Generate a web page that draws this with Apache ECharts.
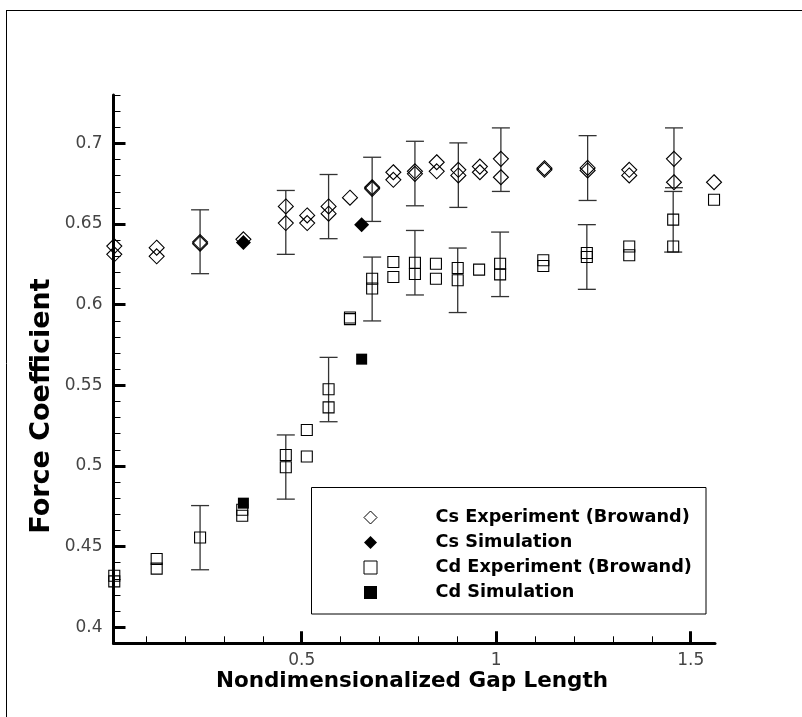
<!DOCTYPE html>
<html>
<head>
<meta charset="utf-8">
<script src="https://cdn.jsdelivr.net/npm/echarts@6/dist/echarts.min.js"></script>
<style>
html,body{margin:0;padding:0;background:#fff;}
#chart{width:802px;height:717px;}
</style>
</head>
<body>
<div id="chart"></div>
<script>
// ---- Data ----
var csExpX = [0.018,0.018, 0.127,0.127, 0.2386,0.2386, 0.35, 0.459,0.459, 0.514,0.514, 0.569,0.569, 0.624,
              0.681,0.681, 0.7355,0.7355, 0.791,0.791, 0.847,0.847, 0.9026,0.9026, 0.958,0.958, 1.012,1.012,
              1.124,1.124, 1.235,1.235, 1.342,1.342, 1.457,1.457, 1.56];
var csExpY = [0.6363,0.6312, 0.6353,0.6300, 0.6388,0.6378, 0.6405, 0.6609,0.6506, 0.6553,0.6506, 0.6609,0.6564, 0.6663,
              0.6728,0.6718, 0.6821,0.6774, 0.6827,0.6811, 0.6883,0.6827, 0.6836,0.6801, 0.6856,0.6821, 0.6904,0.6790,
              0.6846,0.6836, 0.6848,0.6832, 0.6836,0.6801, 0.6904,0.6759, 0.6759];
var csSimX = [0.35, 0.654];
var csSimY = [0.6385, 0.6496];

var cdExpX = [0.018,0.018, 0.127,0.127, 0.2386, 0.347,0.347, 0.459,0.459, 0.513,0.513, 0.569,0.569, 0.624,0.624,
              0.681,0.681, 0.7355,0.7355, 0.791,0.791, 0.845,0.845, 0.901,0.901, 0.956, 1.01,1.01,
              1.121,1.121, 1.233,1.233, 1.342,1.342, 1.455,1.455, 1.56];
var cdExpY = [0.4319,0.4284, 0.4423,0.4363, 0.4556, 0.4728,0.4691, 0.5068,0.4992, 0.5223,0.5058, 0.5475,0.5363, 0.5920,0.5910,
              0.6161,0.6100, 0.6264,0.6171, 0.6260,0.6190, 0.6254,0.6161, 0.6227,0.6151, 0.6217, 0.6254,0.6188,
              0.6275,0.6240, 0.6320,0.6295, 0.6361,0.6306, 0.6527,0.6361, 0.6650];
var cdSimX = [0.35, 0.654];
var cdSimY = [0.4769, 0.5662];

// error bars
var csErrX    = [0.2386, 0.459, 0.569, 0.681, 0.791, 0.9026, 1.012, 1.235, 1.457];
var csErrHigh = [0.6588, 0.6708, 0.6807, 0.6914, 0.7013, 0.7003, 0.7096, 0.7048, 0.7096];
var csErrLow  = [0.6192, 0.6312, 0.6409, 0.6516, 0.6613, 0.6603, 0.6702, 0.6646, 0.6725];
var cdErrX    = [0.2386, 0.459, 0.569, 0.681, 0.791, 0.901, 1.01, 1.233, 1.455];
var cdErrHigh = [0.4754, 0.5192, 0.5673, 0.6295, 0.6460, 0.6351, 0.6450, 0.6496, 0.6702];
var cdErrLow  = [0.4356, 0.4794, 0.5274, 0.5899, 0.6060, 0.5951, 0.6050, 0.6095, 0.6326];

// axis ticks / labels
var xMajor = [0.5, 1, 1.5];
var xMinor = [0.1, 0.2, 0.3, 0.4, 0.6, 0.7, 0.8, 0.9, 1.1, 1.2, 1.3, 1.4];
var yMajor = [0.4, 0.45, 0.5, 0.55, 0.6, 0.65, 0.7];
var yMinor = [0.39, 0.41, 0.42, 0.43, 0.44, 0.46, 0.47, 0.48, 0.49, 0.51, 0.52, 0.53, 0.54,
              0.56, 0.57, 0.58, 0.59, 0.61, 0.62, 0.63, 0.64, 0.66, 0.67, 0.68, 0.69, 0.71, 0.72, 0.73];
var xRange = [0.016, 1.5625];
var yRange = [0.39, 0.73];

var names = ['Cs Experiment (Browand)', 'Cs Simulation', 'Cd Experiment (Browand)', 'Cd Simulation'];

// ---- build ----
function pts(xs, ys) { return xs.map(function (x, i) { return [x, ys[i]]; }); }
function errs(xs, lo, hi) { return xs.map(function (x, i) { return [x, lo[i], hi[i]]; }); }
function fmt(v) { return String(+(+v).toFixed(2)); }

function errRender(params, api) {
  var x = api.value(0), lo = api.value(1), hi = api.value(2);
  var pLo = api.coord([x, lo]), pHi = api.coord([x, hi]);
  var w = 9;
  var st = { stroke: '#333', lineWidth: 1.3 };
  return {
    type: 'group',
    children: [
      { type: 'line', shape: { x1: pLo[0], y1: pLo[1], x2: pHi[0], y2: pHi[1] }, style: st },
      { type: 'line', shape: { x1: pHi[0] - w, y1: pHi[1], x2: pHi[0] + w, y2: pHi[1] }, style: st },
      { type: 'line', shape: { x1: pLo[0] - w, y1: pLo[1], x2: pLo[0] + w, y2: pLo[1] }, style: st }
    ]
  };
}

var labelStyle = { fontFamily: 'DejaVu Sans', fontSize: 17, color: '#444' };

var openStyle = { color: 'rgba(0,0,0,0)', borderColor: '#000', borderWidth: 1.1, opacity: 1 };
var fillStyle = { color: '#000', borderColor: '#000', borderWidth: 0, opacity: 1 };

var option = {
  animation: false,
  backgroundColor: '#fff',
  grid: { left: 113.5, right: 87, top: 95, bottom: 73.7, containLabel: false },
  xAxis: [
    {
      type: 'value', min: xRange[0], max: xRange[1],
      axisLine: { show: true, onZero: false, lineStyle: { color: '#000', width: 3 } },
      axisTick: { show: true, inside: true, length: 12, customValues: xMajor, lineStyle: { color: '#000', width: 3 } },
      axisLabel: { show: true, margin: 9, customValues: xMajor, formatter: fmt,
                   fontFamily: labelStyle.fontFamily, fontSize: labelStyle.fontSize, color: labelStyle.color },
      splitLine: { show: false }
    },
    {
      type: 'value', min: xRange[0], max: xRange[1], position: 'bottom',
      axisLine: { show: false, onZero: false },
      axisTick: { show: true, inside: true, length: 7, customValues: xMinor, lineStyle: { color: '#000', width: 1 } },
      axisLabel: { show: false },
      splitLine: { show: false }
    }
  ],
  yAxis: [
    {
      type: 'value', min: yRange[0], max: yRange[1],
      axisLine: { show: true, onZero: false, lineStyle: { color: '#000', width: 3 } },
      axisTick: { show: true, inside: true, length: 12, customValues: yMajor, lineStyle: { color: '#000', width: 3 } },
      axisLabel: { show: true, margin: 11, customValues: yMajor, formatter: fmt,
                   fontFamily: labelStyle.fontFamily, fontSize: labelStyle.fontSize, color: labelStyle.color },
      splitLine: { show: false }
    },
    {
      type: 'value', min: yRange[0], max: yRange[1], position: 'left',
      axisLine: { show: false, onZero: false },
      axisTick: { show: true, inside: true, length: 7, customValues: yMinor, lineStyle: { color: '#000', width: 1 } },
      axisLabel: { show: false },
      splitLine: { show: false }
    }
  ],
  legend: {
    orient: 'vertical',
    left: 363.5, top: 508.5,
    itemWidth: 13, itemHeight: 13, itemGap: 7,
    padding: 0,
    selectedMode: false,
    symbolKeepAspect: true,
    textStyle: { fontFamily: 'DejaVu Sans', fontWeight: 'bold', fontSize: 17.7, lineHeight: 18, color: '#000',
                 padding: [0, 0, 0, 53.5] },
    data: [
      { name: names[0], icon: 'diamond', itemStyle: { color: 'rgba(0,0,0,0)', borderColor: '#000', borderWidth: 1, opacity: 1 } },
      { name: names[1], icon: 'diamond', itemStyle: { color: '#000', borderWidth: 0, opacity: 1 } },
      { name: names[2], icon: 'rect', itemStyle: { color: 'rgba(0,0,0,0)', borderColor: '#000', borderWidth: 1, opacity: 1 } },
      { name: names[3], icon: 'rect', itemStyle: { color: '#000', borderWidth: 0, opacity: 1 } }
    ]
  },
  graphic: [
    { type: 'line', shape: { x1: 6, y1: 10.5, x2: 802, y2: 10.5 }, style: { stroke: '#000', lineWidth: 1 } },
    { type: 'line', shape: { x1: 6.5, y1: 10, x2: 6.5, y2: 717 }, style: { stroke: '#000', lineWidth: 1 } },
    { type: 'rect', shape: { x: 311.5, y: 487.5, width: 394.5, height: 126.5 },
      style: { fill: 'rgba(0,0,0,0)', stroke: '#000', lineWidth: 1 }, z: 1 },
    { type: 'text', x: 412, y: 681,
      style: { text: 'Nondimensionalized Gap Length', font: 'bold 21.5px "DejaVu Sans"', fill: '#000',
               align: 'center', verticalAlign: 'middle' } },
    { type: 'text', x: 42, y: 406, rotation: Math.PI / 2,
      style: { text: 'Force Coefficient', font: 'bold 27px "DejaVu Sans"', fill: '#000',
               align: 'center', verticalAlign: 'middle' } }
  ],
  series: [
    { type: 'custom', name: 'csErr', renderItem: errRender, data: errs(csErrX, csErrLow, csErrHigh),
      encode: { x: 0, y: [1, 2] }, z: 1, silent: true },
    { type: 'custom', name: 'cdErr', renderItem: errRender, data: errs(cdErrX, cdErrLow, cdErrHigh),
      encode: { x: 0, y: [1, 2] }, z: 1, silent: true },
    { type: 'scatter', name: names[0], symbol: 'diamond', symbolSize: 15, data: pts(csExpX, csExpY),
      itemStyle: openStyle, clip: false, z: 3 },
    { type: 'scatter', name: names[1], symbol: 'diamond', symbolSize: 15, data: pts(csSimX, csSimY),
      itemStyle: fillStyle, clip: false, z: 4 },
    { type: 'scatter', name: names[2], symbol: 'rect', symbolSize: 11, data: pts(cdExpX, cdExpY),
      itemStyle: openStyle, clip: false, z: 3 },
    { type: 'scatter', name: names[3], symbol: 'rect', symbolSize: 11, data: pts(cdSimX, cdSimY),
      itemStyle: fillStyle, clip: false, z: 4 }
  ]
};

var chart = echarts.init(document.getElementById('chart'), null, { renderer: 'canvas' });
chart.setOption(option);
</script>
</body>
</html>
